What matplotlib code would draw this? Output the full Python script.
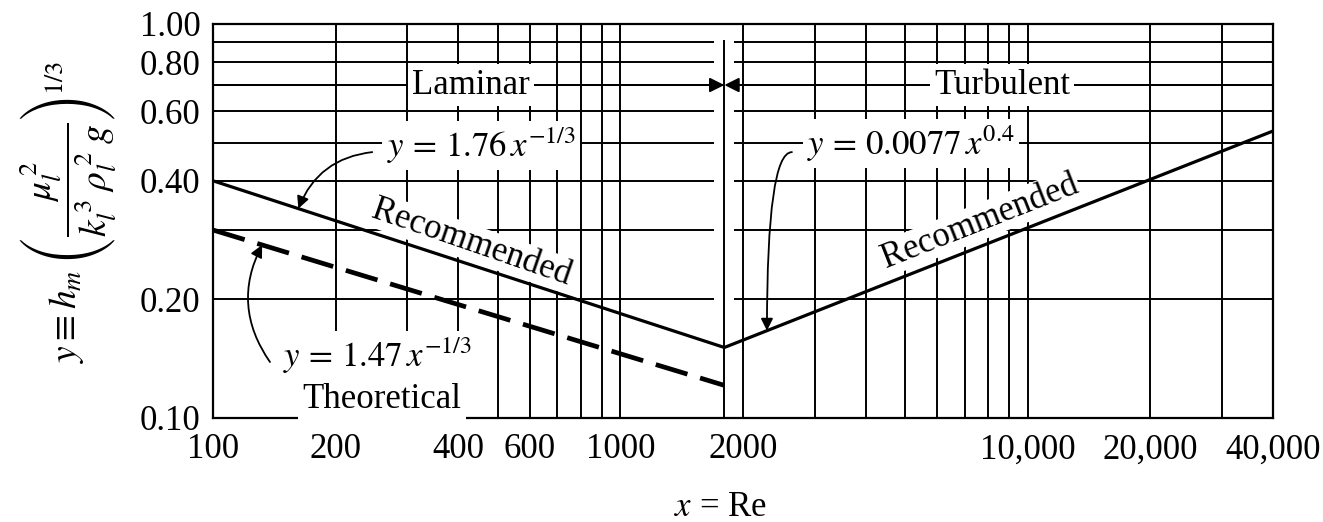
import numpy as np
import matplotlib.pyplot as plt

plt.rcParams['font.family'] = 'Liberation Serif'
plt.rcParams['mathtext.fontset'] = 'stix'

# condensation film coefficient vs Reynolds number
re_lam = [100, 1800]
y_rec_lam = [0.40, 0.151]      # recommended, laminar
y_theo = [0.30, 0.121]         # theoretical (Nusselt), laminar
re_turb = [1800, 40000]
y_rec_turb = [0.151, 0.535]    # recommended, turbulent
re_trans = 1800

x_ticks = [100, 200, 400, 600, 1000, 2000, 10000, 20000, 40000]
x_ticklabels = ['100', '200', '400', '600', '1000', '2000', '10,000', '20,000', '40,000']
y_ticks = [0.10, 0.20, 0.40, 0.60, 0.80, 1.00]
y_ticklabels = ['0.10', '0.20', '0.40', '0.60', '0.80', '1.00']
x_grid = [200, 300, 400, 500, 600, 700, 800, 900, 1000,
          2000, 3000, 4000, 5000, 6000, 7000, 8000, 9000, 10000, 20000, 30000]
y_grid = [0.2, 0.3, 0.4, 0.5, 0.6, 0.7, 0.8, 0.9]


def on_line(xs, ys, x):
    # point on a straight log-log segment
    return 10 ** np.interp(np.log10(x), np.log10(xs), np.log10(ys))


fig = plt.figure(figsize=(13.23, 5.22), dpi=100)
ax = fig.add_axes([213 / 1323, 1 - 418 / 522, 1060 / 1323, 394 / 522])
ax.set_xscale('log')
ax.set_yscale('log')
ax.set_xlim(100, 40000)
ax.set_ylim(0.1, 1.0)

# grid drawn by hand so the horizontals can break around the transition line
ax.vlines(x_grid, 0.1, 1.0, color='black', lw=1.4, zorder=1)
ax.hlines(y_grid, 100, 1700, color='black', lw=1.4, zorder=1)
ax.hlines(y_grid, 1900, 40000, color='black', lw=1.4, zorder=1)
ax.vlines(re_trans, 0.1, 0.91, color='black', lw=1.4, zorder=1)

# curves
ax.plot(re_lam, y_rec_lam, color='black', lw=2.3, zorder=4, solid_capstyle='butt')
ax.plot(re_turb, y_rec_turb, color='black', lw=2.3, zorder=4, solid_capstyle='butt')
ax.plot(re_lam, y_theo, color='black', lw=3.4, dashes=(7, 2.8), zorder=4)

box = dict(facecolor='white', edgecolor='none', pad=3)
fs = 25

# laminar / turbulent regime arrows
arr = dict(arrowstyle='-|>', color='black', lw=1.4, mutation_scale=22, shrinkA=0, shrinkB=0)
ax.annotate('', xy=(re_trans, 0.7), xytext=(100, 0.7), arrowprops=arr, zorder=2)
ax.annotate('', xy=(re_trans, 0.7), xytext=(40000, 0.7), arrowprops=arr, zorder=2)
ax.text(430, 0.7, 'Laminar', fontsize=fs, ha='center', va='center', bbox=box, zorder=3)
ax.text(8650, 0.7, 'Turbulent', fontsize=fs, ha='center', va='center', bbox=box, zorder=3)

# formula labels
ax.text(455, 0.46, r'$y\,=\,1.76\,x^{-1/3}$', fontsize=fs, ha='center', va='baseline',
        bbox=box, zorder=3)
ax.text(5170, 0.465, r'$y\,=\,0.0077\,x^{0.4}$', fontsize=fs, ha='center', va='baseline',
        bbox=box, zorder=3)
ax.text(253, 0.1347, r'$y\,=\,1.47\,x^{-1/3}$', fontsize=fs, ha='center', va='baseline',
        bbox=box, zorder=3)
ax.text(260, 0.106, 'Theoretical', fontsize=fs, ha='center', va='baseline',
        bbox=box, zorder=3)

ax.text(432, 0.278, 'Recommended', fontsize=fs, ha='center', va='center',
        rotation=-19, bbox=dict(facecolor='white', edgecolor='none', pad=1), zorder=3)
ax.text(7630, 0.3145, 'Recommended', fontsize=fs, ha='center', va='center',
        rotation=21.5, bbox=dict(facecolor='white', edgecolor='none', pad=1), zorder=3)

# curved leaders
lead = dict(arrowstyle='-|>', color='black', lw=1.3, mutation_scale=18, shrinkA=0, shrinkB=0)
ax.annotate('', xy=(162, on_line(re_lam, y_rec_lam, 162)), xytext=(246, 0.473),
            arrowprops=dict(lead, connectionstyle='arc3,rad=0.3'), zorder=5)
ax.annotate('', xy=(2290, on_line(re_turb, y_rec_turb, 2290)), xytext=(2637, 0.473),
            arrowprops=dict(lead, connectionstyle='angle3,angleA=0,angleB=90'), zorder=5)
ax.annotate('', xy=(132, on_line(re_lam, y_theo, 132)), xytext=(138, 0.1387),
            arrowprops=dict(lead, connectionstyle='arc3,rad=-0.3'), zorder=5)

# axes
ax.set_xticks(x_ticks)
ax.set_xticklabels(x_ticklabels)
ax.set_yticks(y_ticks)
ax.set_yticklabels(y_ticklabels)
ax.xaxis.set_minor_locator(plt.NullLocator())
ax.yaxis.set_minor_locator(plt.NullLocator())
ax.tick_params(axis='both', length=0, labelsize=fs)
ax.tick_params(axis='x', pad=11)
ax.tick_params(axis='y', pad=9)
for s in ax.spines.values():
    s.set_linewidth(1.6)

fig.text(720 / 1323, 1 - 508 / 522, r'$x$ = Re', fontsize=fs, ha='center', va='center')
fig.text(68 / 1323, 1 - 212 / 522,
         r'$y \equiv h_m\;\left(\dfrac{\mu_l^{\,2}}{k_l^{\,3}\;\rho_l^{\,2}\;g}\right)^{1/3}$',
         fontsize=27, rotation=90, ha='center', va='center')

fig.savefig('out.png', dpi=100, facecolor='white')
